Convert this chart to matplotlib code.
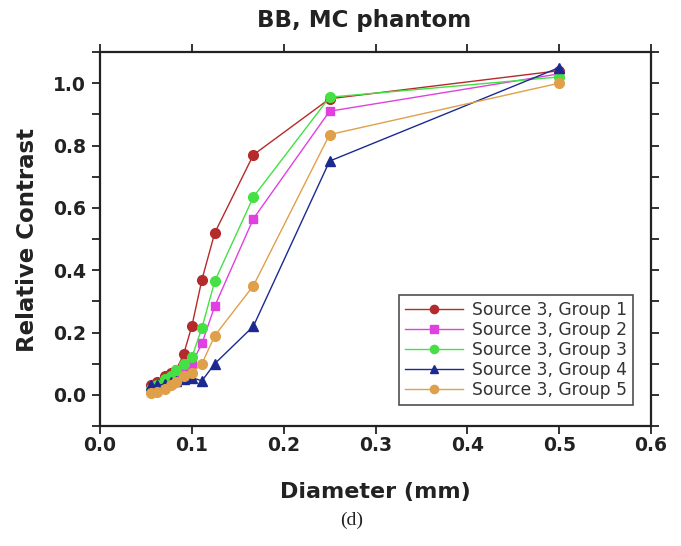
import matplotlib
matplotlib.use("Agg")
import matplotlib.pyplot as plt
from matplotlib.ticker import FixedLocator

plt.rcParams['font.family'] = ['DejaVu Sans']

diameter = [0.5, 0.25, 0.167, 0.125, 0.111, 0.1, 0.091, 0.083, 0.077, 0.071, 0.0625, 0.056]

group1 = [1.04, 0.95, 0.77, 0.52, 0.37, 0.22, 0.13, 0.08, 0.07, 0.06, 0.04, 0.03]
group2 = [1.03, 0.91, 0.565, 0.285, 0.165, 0.10, 0.07, 0.06, 0.05, 0.04, 0.03, 0.02]
group3 = [1.02, 0.955, 0.635, 0.365, 0.215, 0.12, 0.10, 0.08, 0.06, 0.05, 0.03, 0.02]
group4 = [1.05, 0.75, 0.22, 0.10, 0.045, 0.055, 0.05, 0.045, 0.04, 0.035, 0.03, 0.03]
group5 = [1.0, 0.835, 0.35, 0.19, 0.10, 0.07, 0.06, 0.04, 0.03, 0.02, 0.01, 0.005]

labels = ["Source 3, Group 1", "Source 3, Group 2", "Source 3, Group 3",
          "Source 3, Group 4", "Source 3, Group 5"]
series = [group1, group2, group3, group4, group5]
colors = ["#b52a2a", "#e040e0", "#44e044", "#1c2a90", "#e0a04a"]
markers = ["o", "s", "o", "^", "o"]
msizes = [7, 6, 7, 7, 7]

xticks = [0.0, 0.1, 0.2, 0.3, 0.4, 0.5, 0.6]
xticklabels = ["0.0", "0.1", "0.2", "0.3", "0.4", "0.5", "0.6"]
yticks = [0.0, 0.2, 0.4, 0.6, 0.8, 1.0]
yticklabels = ["0.0", "0.2", "0.4", "0.6", "0.8", "1.0"]
yminor = [-0.1, 0.1, 0.3, 0.5, 0.7, 0.9, 1.1]

W, H = 681, 546
fig = plt.figure(figsize=(W / 100, H / 100), dpi=100)
ax = fig.add_axes([100 / W, 1 - 426 / H, 551 / W, 374 / H])

for vals, lab, col, mk, ms in zip(series, labels, colors, markers, msizes):
    ax.plot(diameter, vals, color=col, marker=mk, markersize=ms, linewidth=1.0,
            markeredgecolor=col, label=lab)

ax.set_xlim(0.0, 0.6)
ax.set_ylim(-0.1, 1.1)
ax.xaxis.set_major_locator(FixedLocator(xticks))
ax.set_xticklabels(xticklabels)
ax.yaxis.set_major_locator(FixedLocator(yticks))
ax.set_yticklabels(yticklabels)
ax.yaxis.set_minor_locator(FixedLocator(yminor))

ax.tick_params(which='both', direction='out', top=True, right=True,
               labeltop=False, labelright=False, width=1.3, color='#222222')
ax.tick_params(which='major', length=6, labelsize=13.5)
ax.tick_params(which='minor', length=6)
ax.tick_params(axis='x', which='major', pad=1)
ax.tick_params(axis='y', which='major', pad=4)
for lbl in ax.get_xticklabels() + ax.get_yticklabels():
    lbl.set_fontweight('bold')
    lbl.set_color('#222222')

for sp in ax.spines.values():
    sp.set_linewidth(1.6)
    sp.set_color('#222222')

fig.text(364 / W, 1 - 21 / H, "BB, MC phantom", ha='center', va='center',
         fontsize=16.5, fontweight='bold', color='#222222')
fig.text(375 / W, 1 - 492 / H, "Diameter (mm)", ha='center', va='center',
         fontsize=16, fontweight='bold', color='#222222')
fig.text(28 / W, 1 - 240 / H, "Relative Contrast", ha='center', va='center',
         rotation=90, fontsize=16.5, fontweight='bold', color='#222222')
fig.text(352 / W, 1 - 520 / H, "(d)", ha='center', va='center',
         fontsize=14, family='Liberation Serif', color='#222222')

leg = ax.legend(loc='lower right', bbox_to_anchor=(533 / 551, 21 / 374), fontsize=12.3,
                frameon=True, fancybox=False, handlelength=3.4, borderpad=0.35,
                labelspacing=0.12, handletextpad=0.5, borderaxespad=0.0,
                markerscale=0.85)
leg.get_frame().set_edgecolor('#222222')
leg.get_frame().set_linewidth(1.2)
for t in leg.get_texts():
    t.set_color('#333333')

fig.savefig("out.png", dpi=100)
